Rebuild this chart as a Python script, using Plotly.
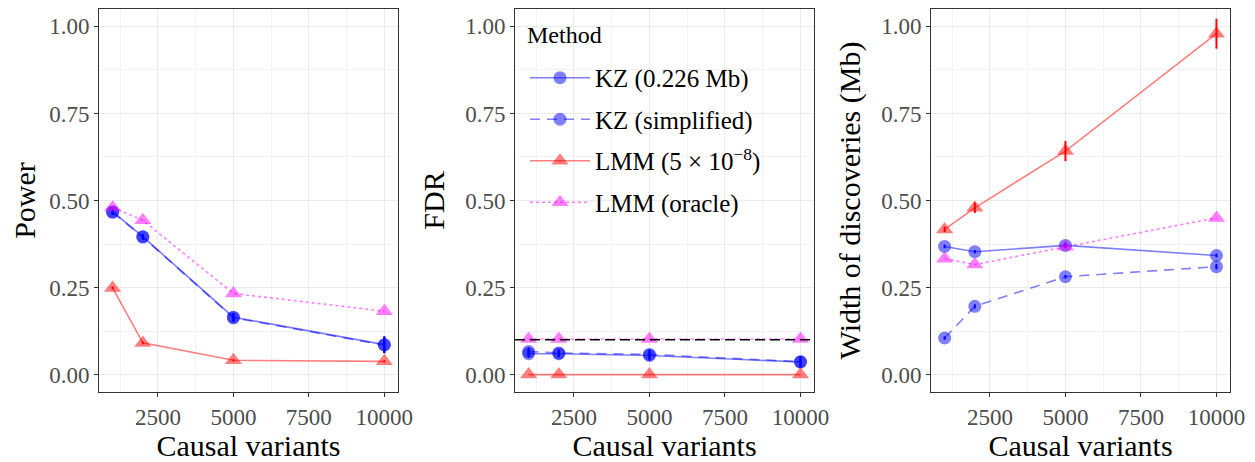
import plotly.graph_objects as go
from plotly.subplots import make_subplots

# data
causal = [1000, 2000, 5000, 10000]
methods = ["KZ (0.226 Mb)", "KZ (simplified)", "LMM (5 × 10<sup>−8</sup>)", "LMM (oracle)"]

power_kz = [0.468, 0.396, 0.165, 0.086]
power_kz_simple = [0.466, 0.395, 0.163, 0.085]
power_lmm = [0.249, 0.091, 0.041, 0.038]
power_oracle = [0.480, 0.443, 0.233, 0.182]
power_kz_se = [0.008, 0.008, 0.012, 0.024]
power_lmm_se = [0.004, 0.004, 0.003, 0.003]

fdr_kz = [0.060, 0.060, 0.055, 0.036]
fdr_kz_simple = [0.066, 0.062, 0.058, 0.037]
fdr_lmm = [0.0, 0.0, 0.0, 0.0]
fdr_oracle = [0.102, 0.102, 0.102, 0.102]
fdr_kz_se = [0.012, 0.010, 0.014, 0.016]
fdr_target = 0.1

width_kz = [0.368, 0.353, 0.371, 0.342]
width_kz_simple = [0.105, 0.196, 0.281, 0.310]
width_lmm = [0.417, 0.479, 0.642, 0.979]
width_oracle = [0.333, 0.316, 0.367, 0.450]
width_kz_se = [0.005, 0.005, 0.008, 0.005]
width_kz_simple_se = [0.005, 0.006, 0.005, 0.008]
width_lmm_se = [0.008, 0.015, 0.029, 0.043]

y_titles = ["Power", "FDR", "Width of discoveries (Mb)"]
y_ticks = [0, 0.25, 0.5, 0.75, 1.0]
y_ticktext = ["0.00", "0.25", "0.50", "0.75", "1.00"]
x_ticks = [2500, 5000, 7500, 10000]
x_ticktext = ["2500", "5000", "7500", "10000"]

colors = ["rgba(0,0,255,0.5)", "rgba(0,0,255,0.5)", "rgba(255,0,0,0.5)", "rgba(255,0,255,0.5)"]
bar_colors = ["#0000ff", "#0000ff", "#ff0000", "#ff00ff"]
dashes = ["solid", "10px,7px", "solid", "dot"]
symbols = ["circle", "circle", "triangle-up", "triangle-up"]

panels = [
    [(power_kz, power_kz_se), (power_kz_simple, power_kz_se), (power_lmm, power_lmm_se), (power_oracle, None)],
    [(fdr_kz, fdr_kz_se), (fdr_kz_simple, fdr_kz_se), (fdr_lmm, None), (fdr_oracle, None)],
    [(width_kz, width_kz_se), (width_kz_simple, width_kz_simple_se), (width_lmm, width_lmm_se), (width_oracle, None)],
]

fig = make_subplots(rows=1, cols=3)
font = "Liberation Serif"

for p, series in enumerate(panels):
    for m, (vals, se) in enumerate(series):
        err = None
        if se is not None:
            err = dict(type="data", array=se, visible=True, color=bar_colors[m], thickness=2, width=0)
        fig.add_trace(go.Scatter(
            x=causal, y=vals, mode="lines+markers", name=methods[m],
            legendgroup=methods[m], showlegend=(p == 0),
            line=dict(color=colors[m], width=1.6, dash=dashes[m]),
            marker=dict(symbol=symbols[m], size=13 if m < 2 else 15, color=colors[m], line=dict(width=0)),
            error_y=err,
        ), row=1, col=p + 1)

fig.add_hline(y=fdr_target, line=dict(color="black", width=1.5, dash="10px,5px"), row=1, col=2)

# page body has an 8px margin, so the figure is sized 8px smaller than the window
domains = [[0.0730, 0.3127], [0.4066, 0.6464], [0.7402, 0.9800]]
for i in range(3):
    fig.update_xaxes(domain=domains[i], range=[550, 10450], tickvals=x_ticks, ticktext=x_ticktext,
                     title=dict(text="Causal variants", font=dict(size=30, color="black"), standoff=2),
                     row=1, col=i + 1)
    fig.update_yaxes(range=[-0.05, 1.05], tickvals=y_ticks, ticktext=y_ticktext,
                     title=dict(text=y_titles[i], font=dict(size=30, color="black"), standoff=11),
                     row=1, col=i + 1)

fig.update_xaxes(showline=True, linecolor="#333333", linewidth=1, mirror=True,
                 ticks="outside", ticklen=4, tickcolor="#333333", automargin=False,
                 gridcolor="#EBEBEB", gridwidth=1.3, zeroline=False,
                 minor=dict(dtick=1250, tick0=0, showgrid=True, gridcolor="#F3F3F3", gridwidth=0.8),
                 tickfont=dict(size=23, color="#4D4D4D"))
fig.update_yaxes(showline=True, linecolor="#333333", linewidth=1, mirror=True,
                 ticks="outside", ticklen=4, tickcolor="#333333", automargin=False,
                 gridcolor="#EBEBEB", gridwidth=1.3, zeroline=False,
                 minor=dict(dtick=0.125, tick0=0, showgrid=True, gridcolor="#F3F3F3", gridwidth=0.8),
                 tickfont=dict(size=23, color="#4D4D4D"), domain=[0.1542, 0.9978])

fig.add_annotation(text="Method", xref="paper", yref="paper", x=0.4146, y=0.9405,
                   xanchor="left", yanchor="middle", showarrow=False, font=dict(size=24))

fig.update_layout(
    width=1247, height=454,
    margin=dict(l=0, r=0, t=0, b=0),
    plot_bgcolor="white", paper_bgcolor="white",
    font=dict(family=font, color="black"),
    legend=dict(x=0.4146, y=0.8966, xanchor="left", yanchor="top",
                bgcolor="rgba(0,0,0,0)", font=dict(size=25),
                tracegroupgap=6, itemwidth=60),
)

fig.write_html("out.html")
